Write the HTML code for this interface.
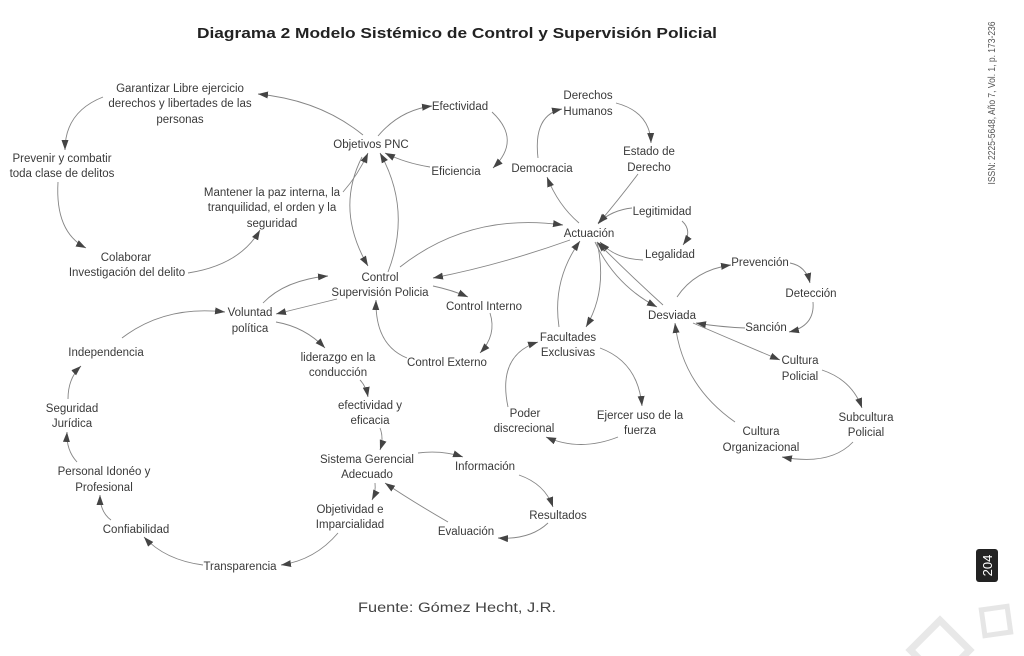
<!DOCTYPE html>
<html>
<head>
<meta charset="utf-8">
<style>
html,body{margin:0;padding:0;background:#fff;}
svg{display:block;}
.t{font-family:"Liberation Sans",Arial,sans-serif;font-size:11.5px;fill:#3a3a3a;text-anchor:middle;}
.e{fill:none;stroke:#858585;stroke-width:0.9;marker-end:url(#ah);}
</style>
</head>
<body>
<svg width="1024" height="656" viewBox="0 0 1024 656" xmlns="http://www.w3.org/2000/svg">
<defs>
<marker id="ah" markerUnits="userSpaceOnUse" markerWidth="11" markerHeight="8" refX="10" refY="4" orient="auto">
<path d="M0,0.5 L10,4 L0,7.5 z" fill="#444"/>
</marker>
</defs>
<rect width="1024" height="656" fill="#fff"/>

<text x="457" y="38" font-family="Liberation Sans, Arial, sans-serif" font-weight="bold" font-size="15" fill="#222" text-anchor="middle" textLength="520" lengthAdjust="spacingAndGlyphs">Diagrama 2 Modelo Sistémico de Control y Supervisión Policial</text>

<!-- edges -->
<path class="e" d="M363,135 Q320,100 258,94"/>
<path class="e" d="M103,97 Q65,112 65,150"/>
<path class="e" d="M58,182 Q55,232 86,248"/>
<path class="e" d="M188,273 Q240,265 260,230"/>
<path class="e" d="M343,192 Q358,175 368,153"/>
<path class="e" d="M378,136 Q400,110 432,106"/>
<path class="e" d="M492,112 Q522,140 493,168"/>
<path class="e" d="M430,167 Q405,163 385,153"/>
<path class="e" d="M362,157 Q335,210 368,266"/>
<path class="e" d="M388,272 Q412,210 380,153"/>
<path class="e" d="M400,267 Q470,212 563,225"/>
<path class="e" d="M570,240 Q500,265 433,278"/>
<path class="e" d="M433,286 Q452,290 468,297"/>
<path class="e" d="M490,313 Q497,335 480,353"/>
<path class="e" d="M407,358 Q375,345 376,300"/>
<path class="e" d="M337,299 Q305,307 276,314"/>
<path class="e" d="M263,303 Q285,280 328,276"/>
<path class="e" d="M122,338 Q165,305 225,312"/>
<path class="e" d="M276,322 Q305,327 325,348"/>
<path class="e" d="M360,380 Q366,386 368,397"/>
<path class="e" d="M380,428 Q384,438 380,450"/>
<path class="e" d="M418,453 Q442,450 463,457"/>
<path class="e" d="M519,475 Q545,484 553,507"/>
<path class="e" d="M548,523 Q530,540 498,538"/>
<path class="e" d="M448,522 Q410,500 385,483"/>
<path class="e" d="M375,483 Q376,492 372,500"/>
<path class="e" d="M338,533 Q315,560 281,565"/>
<path class="e" d="M203,565 Q165,560 144,537"/>
<path class="e" d="M111,520 Q100,512 100,495"/>
<path class="e" d="M77,462 Q66,450 67,432"/>
<path class="e" d="M68,399 Q68,378 81,366"/>

<path class="e" d="M579,223 Q558,205 547,177"/>
<path class="e" d="M538,158 Q533,115 562,109"/>
<path class="e" d="M616,103 Q650,112 651,143"/>
<path class="e" d="M638,174 Q620,198 598,224"/>
<path class="e" d="M632,208 Q612,210 598,223"/>
<path class="e" d="M682,221 Q693,231 683,245"/>
<path class="e" d="M643,260 Q615,259 600,242"/>
<path class="e" d="M595,242 Q615,285 657,307"/>
<path class="e" d="M663,305 Q630,275 597,242"/>
<path class="e" d="M597,242 Q608,290 586,327"/>
<path class="e" d="M559,327 Q552,280 580,241"/>
<path class="e" d="M677,297 Q695,270 731,265"/>
<path class="e" d="M790,263 Q806,266 810,283"/>
<path class="e" d="M813,302 Q815,326 789,332"/>
<path class="e" d="M745,328 Q720,327 696,323"/>
<path class="e" d="M693,323 Q737,342 780,360"/>
<path class="e" d="M822,370 Q852,380 862,408"/>
<path class="e" d="M853,442 Q830,466 782,457"/>
<path class="e" d="M735,422 Q682,385 675,323"/>
<path class="e" d="M600,348 Q638,362 642,406"/>
<path class="e" d="M618,437 Q580,452 546,437"/>
<path class="e" d="M508,407 Q497,355 538,342"/>

<!-- labels -->
<g class="t">
<text x="180" y="92">Garantizar Libre ejercicio</text>
<text x="180" y="107">derechos y libertades de las</text>
<text x="180" y="123">personas</text>
<text x="460" y="110">Efectividad</text>
<text x="371" y="148">Objetivos PNC</text>
<text x="456" y="175">Eficiencia</text>
<text x="62" y="162">Prevenir y combatir</text>
<text x="62" y="177">toda clase de delitos</text>
<text x="272" y="196">Mantener la paz interna, la</text>
<text x="272" y="211">tranquilidad, el orden y la</text>
<text x="272" y="227">seguridad</text>
<text x="126" y="261">Colaborar</text>
<text x="127" y="276">Investigación del delito</text>
<text x="380" y="281">Control</text>
<text x="380" y="296">Supervisión Policia</text>

<text x="588" y="99">Derechos</text>
<text x="588" y="115">Humanos</text>
<text x="649" y="155">Estado de</text>
<text x="649" y="171">Derecho</text>
<text x="542" y="172">Democracia</text>
<text x="662" y="215">Legitimidad</text>
<text x="589" y="237">Actuación</text>
<text x="670" y="258">Legalidad</text>
<text x="760" y="266">Prevención</text>
<text x="811" y="297">Detección</text>
<text x="672" y="319">Desviada</text>
<text x="766" y="331">Sanción</text>
<text x="568" y="341">Facultades</text>
<text x="568" y="356">Exclusivas</text>

<text x="250" y="316">Voluntad</text>
<text x="250" y="332">política</text>
<text x="484" y="310">Control Interno</text>
<text x="447" y="366">Control Externo</text>
<text x="106" y="356">Independencia</text>
<text x="338" y="361">liderazgo en la</text>
<text x="338" y="376">conducción</text>
<text x="370" y="409">efectividad y</text>
<text x="370" y="424">eficacia</text>
<text x="72" y="412">Seguridad</text>
<text x="72" y="427">Jurídica</text>
<text x="367" y="463">Sistema Gerencial</text>
<text x="367" y="478">Adecuado</text>
<text x="485" y="470">Información</text>
<text x="104" y="475">Personal Idonéo y</text>
<text x="104" y="491">Profesional</text>
<text x="350" y="513">Objetividad e</text>
<text x="350" y="528">Imparcialidad</text>
<text x="136" y="533">Confiabilidad</text>
<text x="466" y="535">Evaluación</text>
<text x="240" y="570">Transparencia</text>

<text x="525" y="417">Poder</text>
<text x="524" y="432">discrecional</text>
<text x="640" y="419">Ejercer uso de la</text>
<text x="640" y="434">fuerza</text>
<text x="558" y="519">Resultados</text>
<text x="800" y="364">Cultura</text>
<text x="800" y="380">Policial</text>
<text x="866" y="421">Subcultura</text>
<text x="866" y="436">Policial</text>
<text x="761" y="435">Cultura</text>
<text x="761" y="451">Organizacional</text>
</g>

<text x="457" y="612" font-family="Liberation Sans, Arial, sans-serif" font-size="13.5" fill="#444" text-anchor="middle" textLength="198" lengthAdjust="spacingAndGlyphs">Fuente: Gómez Hecht, J.R.</text>

<!-- side text -->
<text transform="translate(995,103) rotate(-90)" font-family="Liberation Sans, Arial, sans-serif" font-size="10.5" fill="#555" text-anchor="middle" textLength="163" lengthAdjust="spacingAndGlyphs">ISSN: 2225-5648, Año 7, Vol. 1,  p. 173-236</text>

<rect x="976" y="549" width="22" height="33" rx="3" fill="#222"/>
<text transform="translate(992,565.5) rotate(-90)" font-family="Liberation Sans, Arial, sans-serif" font-size="13" fill="#fff" text-anchor="middle">204</text>

<!-- watermark shapes -->
<rect x="983" y="608" width="26" height="26" fill="none" stroke="#e6e6e6" stroke-width="5" transform="rotate(-8 996 621)"/>
<rect x="919" y="629" width="42" height="42" fill="none" stroke="#e8e8e8" stroke-width="7" transform="rotate(45 940 650)"/>
</svg>
</body>
</html>
